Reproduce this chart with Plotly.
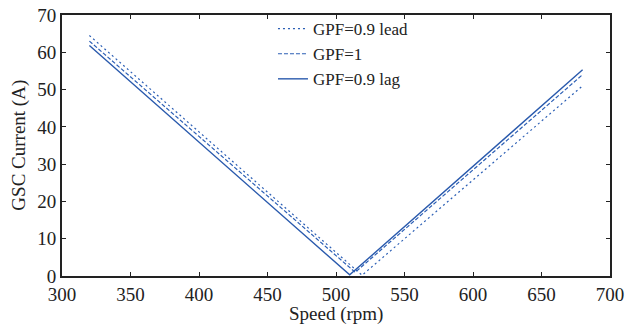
import plotly.graph_objects as go

# Data
speed_lead = [320, 519, 680]
current_lead = [64.5, 0.2, 51.0]
speed_unity = [320, 514, 680]
current_unity = [63.0, 1.0, 54.0]
speed_lag = [320, 510, 680]
current_lag = [61.8, 0.3, 55.3]

x_ticks = [300, 350, 400, 450, 500, 550, 600, 650, 700]
y_ticks = [0, 10, 20, 30, 40, 50, 60, 70]

x_title = "Speed (rpm)"
y_title = "GSC Current (A)"

blue = "#2c5fb5"
fig = go.Figure()
fig.add_trace(go.Scatter(x=speed_lead, y=current_lead, mode="lines", name="GPF=0.9 lead",
                         line=dict(color=blue, width=1.2, dash="2px,3px")))
fig.add_trace(go.Scatter(x=speed_unity, y=current_unity, mode="lines", name="GPF=1",
                         line=dict(color=blue, width=1.2, dash="4px,2px")))
fig.add_trace(go.Scatter(x=speed_lag, y=current_lag, mode="lines", name="GPF=0.9 lag",
                         line=dict(color="#2a5aad", width=1.4)))

font_family = "Liberation Serif, DejaVu Serif, serif"
fs = 19
axis_common = dict(showline=True, linecolor="#222", linewidth=2, mirror="ticks",
                   ticks="inside", ticklen=4, tickcolor="#222", showgrid=False,
                   zeroline=False, tickfont=dict(family=font_family, size=fs, color="#222"))
fig.update_xaxes(range=[300, 700], tickvals=x_ticks, **axis_common)
fig.update_yaxes(range=[0, 70], tickvals=y_ticks, **axis_common)

fig.add_annotation(text=x_title, xref="paper", yref="paper", x=0.5, y=-0.145,
                   xanchor="center", yanchor="middle", showarrow=False,
                   font=dict(family=font_family, size=fs, color="#222"))
fig.add_annotation(text=y_title, xref="paper", yref="paper", x=-0.08, y=0.5,
                   xanchor="center", yanchor="middle", textangle=-90, showarrow=False,
                   font=dict(family=font_family, size=fs, color="#222"))

fig.update_layout(
    width=629, height=324,
    margin=dict(l=62, r=19, t=15, b=48, autoexpand=False),
    paper_bgcolor="white", plot_bgcolor="white",
    font=dict(family=font_family, size=fs, color="#222"),
    legend=dict(x=0.385, y=1.015, xanchor="left", yanchor="top",
                bgcolor="rgba(0,0,0,0)", borderwidth=0,
                font=dict(family=font_family, size=17, color="#222"),
                tracegroupgap=0, itemwidth=30),
    showlegend=True,
)
fig.write_html("out.html", config={"displayModeBar": False},
               post_script="document.body.style.margin='0';document.body.style.padding='0';")
